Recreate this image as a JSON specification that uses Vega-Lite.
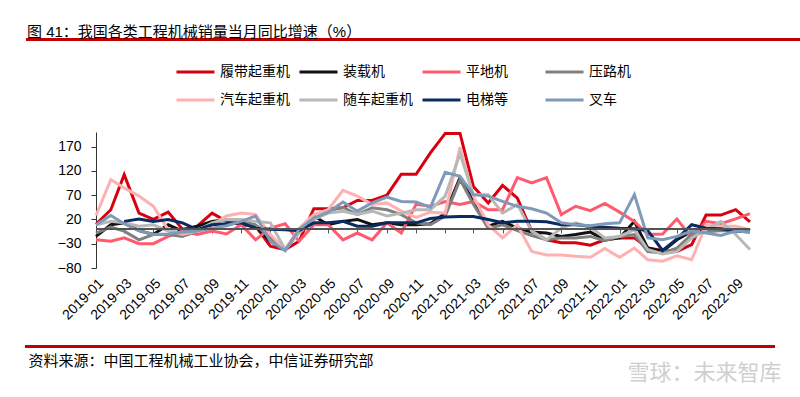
{
  "$schema": "https://vega.github.io/schema/vega-lite/v6.json",
  "autosize": "none",
  "width": 654,
  "height": 136,
  "padding": {"left": 96, "top": 132, "right": 50, "bottom": 129},
  "background": "white",
  "config": {"view": {"stroke": null}},
  "title": {
    "text": "图 41：我国各类工程机械销量当月同比增速（%）",
    "anchor": "start",
    "frame": "group",
    "dx": -69,
    "offset": -1,
    "fontSize": 15,
    "font": "Liberation Sans, Noto Sans CJK SC",
    "fontWeight": "normal",
    "color": "#000000"
  },
  "data": {
    "values": [
      {"date": "2019-01-01", "履带起重机": 10, "装载机": -15, "平地机": -22, "压路机": -8, "汽车起重机": 28, "随车起重机": 9, "电梯等": null, "叉车": 9},
      {"date": "2019-02-01", "履带起重机": 40, "装载机": 9, "平地机": -25, "压路机": 4, "汽车起重机": 102, "随车起重机": 16, "电梯等": null, "叉车": 28},
      {"date": "2019-03-01", "履带起重机": 112, "装载机": 13, "平地机": -18, "压路机": -4, "汽车起重机": 85, "随车起重机": 13, "电梯等": 16, "叉车": 11},
      {"date": "2019-04-01", "履带起重机": 33, "装载机": -3, "平地机": -30, "压路机": -22, "汽车起重机": 68, "随车起重机": 6, "电梯等": 21, "叉车": -3},
      {"date": "2019-05-01", "履带起重机": 20, "装载机": -11, "平地机": -30, "压路机": -11, "汽车起重机": 47, "随车起重机": 9, "电梯等": 16, "叉车": -11},
      {"date": "2019-06-01", "履带起重机": 35, "装载机": 9, "平地机": -15, "压路机": -11, "汽车起重机": -1, "随车起重机": -4, "电梯等": 20, "叉车": -10},
      {"date": "2019-07-01", "履带起重机": 0, "装载机": -4, "平地机": -4, "压路机": -15, "汽车起重机": -11, "随车起重机": -8, "电梯等": 13, "叉车": -6},
      {"date": "2019-08-01", "履带起重机": 6, "装载机": 6, "平地机": -11, "压路机": -4, "汽车起重机": -4, "随车起重机": -3, "电梯等": -1, "叉车": -4},
      {"date": "2019-09-01", "履带起重机": 33, "装载机": 16, "平地机": -4, "压路机": 13, "汽车起重机": 9, "随车起重机": 13, "电梯等": 9, "叉车": 2},
      {"date": "2019-10-01", "履带起重机": 16, "装载机": 20, "平地机": -10, "压路机": 20, "汽车起重机": 27, "随车起重机": 20, "电梯等": 11, "叉车": 7},
      {"date": "2019-11-01", "履带起重机": 9, "装载机": 16, "平地机": 9, "压路机": 16, "汽车起重机": 33, "随车起重机": 20, "电梯等": 13, "叉车": 16},
      {"date": "2019-12-01", "履带起重机": 6, "装载机": 6, "平地机": -22, "压路机": 9, "汽车起重机": 30, "随车起重机": 16, "电梯等": 2, "叉车": 27},
      {"date": "2020-01-01", "履带起重机": -35, "装载机": -25, "平地机": 2, "压路机": -18, "汽车起重机": -11, "随车起重机": 13, "电梯等": 0, "叉车": -25},
      {"date": "2020-02-01", "履带起重机": -42, "装载机": -42, "平地机": 11, "压路机": -44, "汽车起重机": -42, "随车起重机": -42, "电梯等": -1, "叉车": -44},
      {"date": "2020-03-01", "履带起重机": -25, "装载机": -4, "平地机": -25, "压路机": -4, "汽车起重机": 2, "随车起重机": -8, "电梯等": -3, "叉车": -1},
      {"date": "2020-04-01", "履带起重机": 42, "装载机": 27, "平地机": 9, "压路机": 20, "汽车起重机": 30, "随车起重机": 20, "电梯等": 13, "叉车": 23},
      {"date": "2020-05-01", "履带起重机": 42, "装载机": 9, "平地机": 9, "压路机": 37, "汽车起重机": 40, "随车起重机": 33, "电梯等": 13, "叉车": 35},
      {"date": "2020-06-01", "履带起重机": 44, "装载机": 16, "平地机": -22, "压路机": 45, "汽车起重机": 80, "随车起重机": 37, "电梯等": 16, "叉车": 56},
      {"date": "2020-07-01", "履带起重机": 59, "装载机": 20, "平地机": -8, "压路机": 30, "汽车起重机": 68, "随车起重机": 30, "电梯等": 6, "叉车": 37},
      {"date": "2020-08-01", "履带起重机": 59, "装载机": 9, "平地机": -22, "压路机": 44, "汽车起重机": 51, "随车起重机": 37, "电梯等": 6, "叉车": 54},
      {"date": "2020-09-01", "履带起重机": 70, "装载机": 13, "平地机": 13, "压路机": 40, "汽车起重机": 54, "随车起重机": 27, "电梯等": 13, "叉车": 66},
      {"date": "2020-10-01", "履带起重机": 113, "装载机": 9, "平地机": -8, "压路机": 30, "汽车起重机": 37, "随车起重机": 33, "电梯等": 13, "叉车": 57},
      {"date": "2020-11-01", "履带起重机": 113, "装载机": 9, "平地机": 51, "压路机": 13, "汽车起重机": 24, "随车起重机": 40, "电梯等": 13, "叉车": 56},
      {"date": "2020-12-01", "履带起重机": 157, "装载机": 11, "平地机": 47, "压路机": 9, "汽车起重机": 35, "随车起重机": 40, "电梯等": 22, "叉车": 45},
      {"date": "2021-01-01", "履带起重机": 197, "装载机": 33, "平地机": 57, "压路机": 27, "汽车起重机": 33, "随车起重机": 68, "电梯等": 25, "叉车": 117},
      {"date": "2021-02-01", "履带起重机": 197, "装载机": 106, "平地机": 51, "压路机": 102, "汽车起重机": 169, "随车起重机": 155, "电梯等": 26, "叉车": 109},
      {"date": "2021-03-01", "履带起重机": 88, "装载机": 57, "平地机": 57, "压路机": 51, "汽车起重机": 68, "随车起重机": 71, "电梯等": 26, "叉车": 71},
      {"date": "2021-04-01", "履带起重机": 54, "装载机": 6, "平地机": 40, "压路机": 2, "汽车起重机": 9, "随车起重机": 71, "电梯等": 20, "叉车": 68},
      {"date": "2021-05-01", "履带起重机": 90, "装载机": 16, "平地机": 40, "压路机": 9, "汽车起重机": -18, "随车起重机": 33, "电梯等": 13, "叉车": 57},
      {"date": "2021-06-01", "履带起重机": 64, "装载机": 2, "平地机": 106, "压路机": -3, "汽车起重机": 9, "随车起重机": 51, "电梯等": 16, "叉车": 47},
      {"date": "2021-07-01", "履带起重机": -4, "装载机": -6, "平地机": 95, "压路机": -13, "汽车起重机": -46, "随车起重机": -4, "电梯等": 16, "叉车": 42},
      {"date": "2021-08-01", "履带起重机": -22, "装载机": -8, "平地机": 106, "压路机": -22, "汽车起重机": -53, "随车起重机": -22, "电梯等": 15, "叉车": 33},
      {"date": "2021-09-01", "履带起重机": -28, "装载机": -15, "平地机": 30, "压路机": -18, "汽车起重机": -53, "随车起重机": 2, "电梯等": 9, "叉车": 13},
      {"date": "2021-10-01", "履带起重机": -28, "装载机": -11, "平地机": 47, "压路机": -18, "汽车起重机": -56, "随车起重机": 13, "电梯等": 9, "叉车": 9},
      {"date": "2021-11-01", "履带起重机": -33, "装载机": -6, "平地机": 38, "压路机": -15, "汽车起重机": -58, "随车起重机": 4, "电梯等": 6, "叉车": 7},
      {"date": "2021-12-01", "履带起重机": -22, "装载机": -22, "平地机": 53, "压路机": -24, "汽车起重机": -40, "随车起重机": -18, "电梯等": 4, "叉车": 11},
      {"date": "2022-01-01", "履带起重机": -18, "装载机": -18, "平地机": 35, "压路机": -15, "汽车起重机": -58, "随车起重机": -15, "电梯等": 2, "叉车": 13},
      {"date": "2022-02-01", "履带起重机": -18, "装载机": 16, "平地机": 16, "压路机": -11, "汽车起重机": -39, "随车起重机": -1, "电梯等": 1, "叉车": 71},
      {"date": "2022-03-01", "履带起重机": -39, "装载机": -39, "平地机": -11, "压路机": -46, "汽车起重机": -63, "随车起重机": -42, "电梯等": -3, "叉车": -18},
      {"date": "2022-04-01", "履带起重机": -44, "装载机": -46, "平地机": -10, "压路机": -49, "汽车起重机": -66, "随车起重机": -51, "电梯等": -44, "叉车": -22},
      {"date": "2022-05-01", "履带起重机": -46, "装载机": -22, "平地机": 21, "压路机": -39, "汽车起重机": -55, "随车起重机": -46, "电梯等": -20, "叉车": -15},
      {"date": "2022-06-01", "履带起重机": -32, "装载机": -4, "平地机": -18, "压路机": -11, "汽车起重机": -63, "随车起重机": -18, "电梯等": 9, "叉车": -4},
      {"date": "2022-07-01", "履带起重机": 29, "装载机": -3, "平地机": 16, "压路机": -6, "汽车起重机": 9, "随车起重机": -1, "电梯等": 2, "叉车": -8},
      {"date": "2022-08-01", "履带起重机": 29, "装载机": -3, "平地机": 11, "压路机": -3, "汽车起重机": 6, "随车起重机": 16, "电梯等": 1, "叉车": -13},
      {"date": "2022-09-01", "履带起重机": 40, "装载机": -3, "平地机": 21, "压路机": -4, "汽车起重机": 6, "随车起重机": -11, "电梯等": -4, "叉车": -4},
      {"date": "2022-10-01", "履带起重机": 15, "装载机": -4, "平地机": 32, "压路机": -4, "汽车起重机": -1, "随车起重机": -42, "电梯等": -6, "叉车": -6}
    ]
  },
  "resolve": {"axis": {"x": "independent", "y": "independent"}},
  "layer": [
    {
      "transform": [
        {"fold": ["履带起重机", "装载机", "平地机", "压路机", "汽车起重机", "随车起重机", "电梯等", "叉车"], "as": ["series", "value"]}
      ],
      "mark": {"type": "line", "strokeWidth": 3, "clip": false},
      "encoding": {
        "x": {
          "field": "date",
          "type": "temporal",
          "scale": {"type": "utc", "domain": [1546300800000, 1664582400000], "nice": false},
          "axis": {
            "values": [
              {"year": 2019, "month": 1, "date": 1, "utc": true}, {"year": 2019, "month": 3, "date": 1, "utc": true},
              {"year": 2019, "month": 5, "date": 1, "utc": true}, {"year": 2019, "month": 7, "date": 1, "utc": true},
              {"year": 2019, "month": 9, "date": 1, "utc": true}, {"year": 2019, "month": 11, "date": 1, "utc": true},
              {"year": 2020, "month": 1, "date": 1, "utc": true}, {"year": 2020, "month": 3, "date": 1, "utc": true},
              {"year": 2020, "month": 5, "date": 1, "utc": true}, {"year": 2020, "month": 7, "date": 1, "utc": true},
              {"year": 2020, "month": 9, "date": 1, "utc": true}, {"year": 2020, "month": 11, "date": 1, "utc": true},
              {"year": 2021, "month": 1, "date": 1, "utc": true}, {"year": 2021, "month": 3, "date": 1, "utc": true},
              {"year": 2021, "month": 5, "date": 1, "utc": true}, {"year": 2021, "month": 7, "date": 1, "utc": true},
              {"year": 2021, "month": 9, "date": 1, "utc": true}, {"year": 2021, "month": 11, "date": 1, "utc": true},
              {"year": 2022, "month": 1, "date": 1, "utc": true}, {"year": 2022, "month": 3, "date": 1, "utc": true},
              {"year": 2022, "month": 5, "date": 1, "utc": true}, {"year": 2022, "month": 7, "date": 1, "utc": true},
              {"year": 2022, "month": 9, "date": 1, "utc": true}
            ],
            "format": "%Y-%m",
            "labelAngle": -45,
            "labelFontSize": 14,
            "labelFont": "Liberation Sans",
            "labelColor": "#000000",
            "labelOverlap": false,
            "labelFlush": false,
            "labelPadding": 8,
            "domain": false,
            "ticks": false,
            "grid": false,
            "orient": "bottom",
            "title": "资料来源：中国工程机械工业协会，中信证券研究部",
            "titleFont": "Noto Sans CJK SC",
            "titleFontSize": 15,
            "titleFontWeight": "normal",
            "titleColor": "#000000",
            "titleAlign": "left",
            "titleBaseline": "middle",
            "titleAnchor": "start",
            "titleX": -68,
            "titleY": 92
          }
        },
        "y": {
          "field": "value",
          "type": "quantitative",
          "scale": {"domain": [-80, 200], "nice": false, "zero": false},
          "axis": {
            "values": [-80, -30, 20, 70, 120, 170],
            "grid": false,
            "title": null,
            "labelFontSize": 14,
            "labelFont": "Liberation Sans",
            "labelColor": "#000000",
            "labelPadding": 10,
            "tickSize": 5,
            "tickColor": "#333333",
            "domainColor": "#333333"
          }
        },
        "color": {
          "field": "series",
          "type": "nominal",
          "scale": {
            "domain": ["履带起重机", "装载机", "平地机", "压路机", "汽车起重机", "随车起重机", "电梯等", "叉车"],
            "range": ["#D7000F", "#111111", "#FF5A6E", "#808080", "#FFB0B0", "#B8B8B8", "#0A2A60", "#7F9AB8"]
          },
          "legend": {
            "orient": "none",
            "legendX": 79,
            "legendY": -69,
            "direction": "horizontal",
            "columns": 4,
            "title": null,
            "symbolType": "stroke",
            "symbolSize": 1444,
            "symbolStrokeWidth": 3,
            "clipHeight": 18,
            "labelFont": "Noto Sans CJK SC",
            "labelFontSize": 14,
            "labelColor": "#000000",
            "labelOffset": 4,
            "columnPadding": 8,
            "rowPadding": 10,
            "gridAlign": "all"
          }
        }
      }
    },
    {
      "mark": {"type": "rule", "color": "#555555", "strokeWidth": 1},
      "encoding": {
        "x": {
          "datum": {"year": 2019, "month": 1, "date": 1, "utc": true},
          "type": "temporal",
          "axis": {
            "orient": "bottom",
            "offset": -39,
            "values": [
              {"year": 2019, "month": 1, "date": 1, "utc": true}, {"year": 2019, "month": 3, "date": 1, "utc": true},
              {"year": 2019, "month": 5, "date": 1, "utc": true}, {"year": 2019, "month": 7, "date": 1, "utc": true},
              {"year": 2019, "month": 9, "date": 1, "utc": true}, {"year": 2019, "month": 11, "date": 1, "utc": true},
              {"year": 2020, "month": 1, "date": 1, "utc": true}, {"year": 2020, "month": 3, "date": 1, "utc": true},
              {"year": 2020, "month": 5, "date": 1, "utc": true}, {"year": 2020, "month": 7, "date": 1, "utc": true},
              {"year": 2020, "month": 9, "date": 1, "utc": true}, {"year": 2020, "month": 11, "date": 1, "utc": true},
              {"year": 2021, "month": 1, "date": 1, "utc": true}, {"year": 2021, "month": 3, "date": 1, "utc": true},
              {"year": 2021, "month": 5, "date": 1, "utc": true}, {"year": 2021, "month": 7, "date": 1, "utc": true},
              {"year": 2021, "month": 9, "date": 1, "utc": true}, {"year": 2021, "month": 11, "date": 1, "utc": true},
              {"year": 2022, "month": 1, "date": 1, "utc": true}, {"year": 2022, "month": 3, "date": 1, "utc": true},
              {"year": 2022, "month": 5, "date": 1, "utc": true}, {"year": 2022, "month": 7, "date": 1, "utc": true},
              {"year": 2022, "month": 9, "date": 1, "utc": true}
            ],
            "labels": false,
            "grid": false,
            "domain": true,
            "domainColor": "#555555",
            "ticks": true,
            "tickSize": 4,
            "tickColor": "#555555",
            "title": "雪球：未来智库",
            "titleFont": "Noto Sans CJK SC",
            "titleFontSize": 22,
            "titleFontWeight": "normal",
            "titleColor": "#CFCFCF",
            "titleAlign": "left",
            "titleBaseline": "middle",
            "titleX": 531,
            "titleY": 143
          }
        },
        "x2": {"datum": {"year": 2022, "month": 10, "date": 1, "utc": true}},
        "y": {"datum": 0, "type": "quantitative", "axis": null}
      }
    },
    {
      "mark": {"type": "rule", "color": "#C00000", "strokeWidth": 2, "clip": false},
      "encoding": {
        "x": {"datum": {"year": 2018, "month": 8, "date": 9, "utc": true}, "type": "temporal", "axis": null},
        "x2": {"datum": {"year": 2023, "month": 1, "date": 12, "utc": true}},
        "y": {"datum": 390, "type": "quantitative", "axis": null}
      }
    },
    {
      "mark": {"type": "rule", "color": "#C00000", "strokeWidth": 2, "clip": false},
      "encoding": {
        "x": {"datum": {"year": 2018, "month": 8, "date": 7, "utc": true}, "type": "temporal", "axis": null},
        "x2": {"datum": {"year": 2022, "month": 11, "date": 21, "utc": true}},
        "y": {"datum": -241, "type": "quantitative", "axis": null}
      }
    }
  ]
}
